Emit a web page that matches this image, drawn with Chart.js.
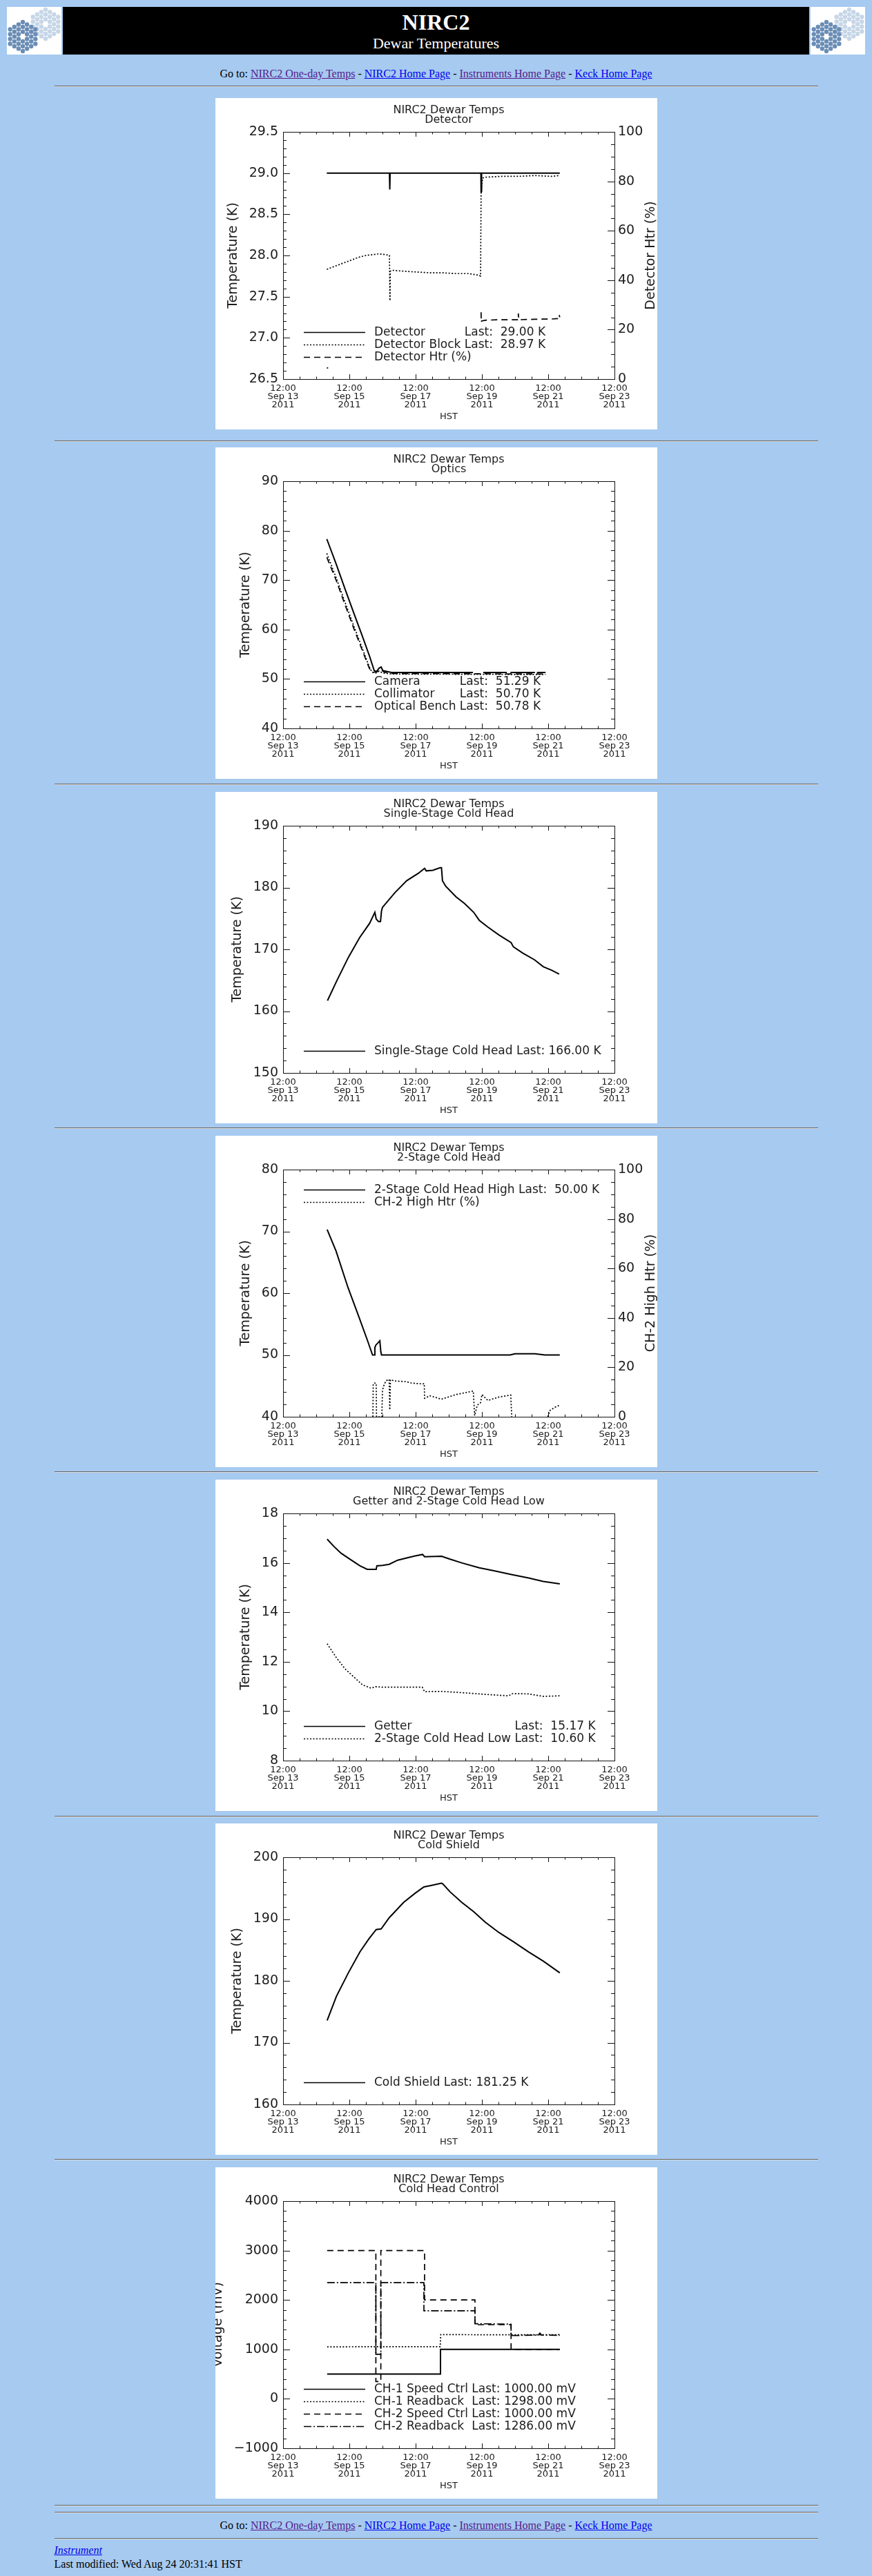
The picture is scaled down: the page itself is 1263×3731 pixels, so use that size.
<!DOCTYPE html>
<html>
<head>
<meta charset="utf-8">
<title>NIRC2 Dewar Temperatures</title>
<script src="https://cdn.jsdelivr.net/npm/chart.js@4.4.1/dist/chart.umd.min.js"></script>
<style>
  html, body { overflow: hidden; }
  body { margin: 0; padding: 10px 10px 0 10px; background: #a6caf0; color: #000;
         font-family: "Liberation Serif", "Times New Roman", serif; font-size: 16px; }
  .head { display: flex; gap: 2px; height: 69px; }
  .head canvas { display: block; }
  .banner { flex: 1; background: #000; color: #fff; display: flex; flex-direction: column;
            justify-content: center; align-items: center; }
  .banner .t1 { font-size: 32px; font-weight: bold; line-height: 36px; }
  .banner .t2 { font-size: 22px; line-height: 26px; }
  .wrap { width: 1106px; margin: 0 auto; }
  .goto { text-align: center; line-height: 20px; }
  hr { border: 0; border-top: 1px solid #666; border-bottom: 1px solid #dcdcdc; height: 0; margin: 0; }
  .plot { display: block; margin-left: auto; margin-right: auto; background: #fff; }
  a { color: #0000ee; }
  a.v { color: #551a8b; }
  .foot { line-height: 20px; }
</style>
</head>
<body>
<div class="head">
  <canvas class="logo" width="79" height="69"></canvas>
  <div class="banner"><div class="t1">NIRC2</div><div class="t2">Dewar Temperatures</div></div>
  <canvas class="logo" width="79" height="69"></canvas>
</div>
<div class="wrap">
  <div class="goto" style="margin-top:18px">Go to: <a class="v" href="#">NIRC2 One-day Temps</a> - <a href="#">NIRC2 Home Page</a> - <a class="v" href="#">Instruments Home Page</a> - <a href="#">Keck Home Page</a></div>
  <hr style="margin-top:7px">
  <canvas id="c1" class="plot" width="640" height="480" style="margin-top:16px"></canvas>
  <hr style="margin-top:16px">
  <canvas id="c2" class="plot" width="640" height="480" style="margin-top:8px"></canvas>
  <hr style="margin-top:7px">
  <canvas id="c3" class="plot" width="640" height="480" style="margin-top:10px"></canvas>
  <hr style="margin-top:6px">
  <canvas id="c4" class="plot" width="640" height="480" style="margin-top:10px"></canvas>
  <hr style="margin-top:6px">
  <canvas id="c5" class="plot" width="640" height="480" style="margin-top:10px"></canvas>
  <hr style="margin-top:7px">
  <canvas id="c6" class="plot" width="640" height="480" style="margin-top:9px"></canvas>
  <hr style="margin-top:6px">
  <canvas id="c7" class="plot" width="640" height="480" style="margin-top:10px"></canvas>
  <hr style="margin-top:9px">
  <hr style="margin-top:8px">
  <div class="goto" style="margin-top:8px">Go to: <a class="v" href="#">NIRC2 One-day Temps</a> - <a href="#">NIRC2 Home Page</a> - <a class="v" href="#">Instruments Home Page</a> - <a href="#">Keck Home Page</a></div>
  <hr style="margin-top:8px">
  <div class="foot" style="margin-top:6px"><i><a href="#">Instrument</a></i><br>Last modified: Wed Aug 24 20:31:41 HST</div>
</div>

<script>
// time axis: days since Sep 13 2011 12:00 HST
const tickDates = ['Sep 13', 'Sep 15', 'Sep 17', 'Sep 19', 'Sep 21', 'Sep 23'];
const tickTime = '12:00';
const tickYear = '2011';

// Detector
const detX   = [1.32, 2.0, 2.6, 3.21, 3.215, 3.225, 3.23, 4.1, 4.6, 5.2, 5.97, 5.975, 5.985, 5.99, 6.5, 7.0, 7.6, 8.35];
const detY   = [29.00, 29.00, 29.00, 29.00, 28.80, 28.80, 29.00, 29.00, 29.00, 29.00, 29.00, 28.76, 28.78, 29.00, 29.00, 29.00, 29.00, 29.00];
const blockX = [1.32, 1.5, 1.7, 1.9, 2.1, 2.3, 2.5, 2.7, 2.9, 3.1, 3.21, 3.225, 3.235, 3.3, 3.6, 4.0, 4.4, 4.8, 5.2, 5.6, 5.9, 5.96, 5.975, 6.02, 6.1, 6.6, 7.1, 7.6, 8.1, 8.35];
const blockY = [27.83, 27.86, 27.89, 27.92, 27.95, 27.98, 28.00, 28.01, 28.02, 28.01, 28.00, 27.45, 27.81, 27.82, 27.81, 27.80, 27.79, 27.79, 27.78, 27.78, 27.76, 27.75, 28.75, 28.94, 28.95, 28.96, 28.96, 28.97, 28.96, 28.97];
const htrX   = [1.32, 1.36, 1.37, 5.975, 5.98, 5.99, 6.1, 6.5, 7.0, 7.09, 7.1, 7.11, 7.6, 8.1, 8.3, 8.33, 8.35];
const htrY   = [4.5, 4.5, null, 27.0, 23.0, 23.5, 23.8, 24.0, 24.0, 24.0, 26.5, 24.0, 24.2, 24.3, 24.5, 26.0, 25.0];
const detectorLast = ['29.00 K', '28.97 K', null];

// Optics
const camX   = [1.32, 1.6, 1.87, 2.13, 2.39, 2.61, 2.75, 2.82, 2.9, 2.96, 3.01, 3.27, 4.5, 5.73, 5.74, 6.04, 6.75, 6.76, 6.86, 7.6, 7.61, 7.66, 7.92];
const camY   = [78.3, 73.3, 68.2, 63.4, 58.7, 54.6, 51.7, 51.5, 52.2, 52.4, 51.7, 51.3, 51.3, 51.3, null, 51.3, 51.3, null, 51.3, 51.3, null, 51.3, 51.3];
const colX   = [1.32, 1.6, 1.87, 2.13, 2.39, 2.6, 2.68, 2.8, 2.9, 3.0, 3.3, 7.92];
const colY   = [75.4, 70.5, 65.5, 60.8, 56.2, 52.5, 51.4, 51.2, 51.6, 51.2, 51.0, 50.9];
const benchX = [1.32, 1.6, 1.87, 2.13, 2.39, 2.6, 2.68, 2.85, 2.95, 3.05, 3.3, 7.92];
const benchY = [74.6, 70.0, 65.0, 60.3, 55.8, 52.2, 51.3, 51.5, 51.9, 51.4, 51.1, 51.0];
const opticsLast = ['51.29 K', '50.70 K', '50.78 K'];

// Single-stage cold head
const singleX = [1.34, 1.62, 1.97, 2.31, 2.61, 2.77, 2.81, 2.88, 2.94, 2.97, 3.0, 3.38, 3.73, 4.08, 4.27, 4.32, 4.52, 4.74, 4.78, 4.81, 4.91, 5.22, 5.48, 5.75, 5.92, 6.18, 6.52, 6.88, 6.95, 7.23, 7.59, 7.85, 8.11, 8.33];
const singleY = [161.7, 164.9, 168.7, 171.9, 174.2, 176.0, 174.9, 174.5, 174.5, 176.2, 176.8, 179.2, 181.1, 182.3, 183.1, 182.7, 182.8, 183.2, 183.2, 181.1, 180.2, 178.5, 177.4, 176.0, 174.7, 173.6, 172.3, 171.1, 170.4, 169.4, 168.3, 167.2, 166.6, 166.0];
const singleLast = ['166.00 K'];

// 2-stage cold head high + heater
const ch2HighX = [1.33, 1.6, 1.96, 2.3, 2.53, 2.7, 2.75, 2.77, 2.8, 2.87, 2.92, 2.95, 2.97, 3.2, 4.0, 5.0, 5.8, 6.0, 6.85, 7.0, 7.3, 7.6, 7.9, 8.35];
const ch2HighY = [70.3, 66.8, 60.9, 56.0, 52.6, 50.0, 50.0, 51.2, 51.6, 52.0, 52.3, 50.5, 50.0, 50.0, 50.0, 50.0, 50.0, 50.0, 50.0, 50.2, 50.2, 50.2, 50.0, 50.0];
const ch2HtrX  = [2.71, 2.72, 2.75, 2.81, 2.82, 2.98, 3.0, 3.05, 3.11, 3.2, 3.22, 3.24, 3.36, 3.71, 3.89, 4.2, 4.26, 4.27, 4.43, 4.78, 5.22, 5.74, 5.78, 5.86, 5.96, 6.0, 6.18, 6.52, 6.87, 6.9, 6.95, 7.99, 8.05, 8.2, 8.35];
const ch2HtrY  = [0.0, 13.0, 13.7, 13.5, 0.0, 0.0, 10.8, 13.0, 14.6, 15.1, 2.8, 15.0, 14.5, 14.2, 13.6, 13.3, 13.4, 7.5, 8.5, 7.1, 9.0, 10.4, 0.5, 4.7, 5.7, 9.0, 6.6, 8.0, 8.8, 0.0, null, 0.0, 2.5, 3.8, 4.7];
const ch2Last  = ['50.00 K', null];

// Getter and 2-stage cold head low
const getterX = [1.33, 1.53, 1.75, 2.06, 2.32, 2.54, 2.81, 2.83, 3.0, 3.2, 3.46, 3.73, 3.99, 4.21, 4.27, 4.78, 5.04, 5.39, 5.92, 6.36, 6.89, 7.41, 7.85, 8.35];
const getterY = [16.96, 16.67, 16.39, 16.11, 15.88, 15.74, 15.74, 15.88, 15.90, 15.94, 16.11, 16.20, 16.28, 16.34, 16.25, 16.27, 16.15, 16.00, 15.80, 15.68, 15.53, 15.39, 15.25, 15.15];
const lowX    = [1.33, 1.6, 1.87, 2.13, 2.4, 2.66, 2.8, 3.0, 3.5, 4.2, 4.27, 4.78, 5.39, 6.1, 6.8, 6.92, 7.4, 7.85, 8.35];
const lowY    = [12.73, 12.18, 11.71, 11.39, 11.06, 10.93, 10.99, 10.97, 10.97, 10.97, 10.79, 10.80, 10.75, 10.68, 10.62, 10.71, 10.70, 10.60, 10.62];
const getterLast = ['15.17 K', '10.60 K'];

// Cold shield
const shieldX = [1.33, 1.61, 1.97, 2.32, 2.59, 2.81, 2.96, 3.2, 3.64, 3.99, 4.25, 4.43, 4.78, 4.82, 5.04, 5.39, 5.75, 6.1, 6.52, 6.96, 7.4, 7.85, 8.35];
const shieldY = [173.6, 177.5, 181.3, 184.7, 186.8, 188.3, 188.4, 190.2, 192.7, 194.2, 195.2, 195.4, 195.8, 195.7, 194.4, 192.7, 191.2, 189.5, 187.8, 186.3, 184.7, 183.2, 181.3];
const shieldLast = ['181.25 K'];

// Cold head control (mV)
const ch1CtrlX = [1.33, 4.75, 4.75, 8.35];
const ch1CtrlY = [500, 500, 1000, 1000];
const ch1ReadX = [1.33, 2.5, 4.74, 4.76, 6.5, 8.35];
const ch1ReadY = [1050, 1055, 1055, 1300, 1295, 1298];
const ch2CtrlX = [1.33, 2.8, 2.8, 2.95, 2.95, 4.27, 4.27, 5.79, 5.79, 6.88, 6.88, 8.35];
const ch2CtrlY = [3000, 3000, 350, 350, 3000, 3000, 2000, 2000, 1500, 1500, 1000, 1000];
const ch2ReadX = [1.33, 2.8, 2.8, 2.95, 2.95, 4.25, 4.25, 5.79, 5.79, 6.88, 6.88, 7.7, 7.75, 7.8, 8.35];
const ch2ReadY = [2350, 2350, 900, 900, 2350, 2350, 1780, 1780, 1520, 1510, 1280, 1290, 1330, 1290, 1286];
const ctrlLast = ['1000.00 mV', '1298.00 mV', '1000.00 mV', '1286.00 mV'];

const FONT = '"DejaVu Sans", "Liberation Sans", sans-serif';
const INK = '#1c1c1c';
const DASH = { solid: [], dotted: [2, 2.5], dashed: [9, 6], dashdot: [11, 3, 2, 3] };

function xy(xs, ys) { return xs.map((x, i) => ({ x, y: ys[i] })); }

function line(label, xs, ys, style, axis) {
  return {
    label, data: xy(xs, ys), yAxisID: axis || 'y',
    borderColor: '#000', borderWidth: style === 'solid' ? 2 : 1.7,
    borderDash: DASH[style], pointRadius: 0, tension: 0, spanGaps: false, fill: false
  };
}

// IDL style frame, inward ticks, titles and legend
const idlPlot = {
  id: 'idlPlot',
  afterDraw(chart, args, o) {
    const { ctx, chartArea: a, scales } = chart;
    const seg = (x1, y1, x2, y2) => { ctx.beginPath(); ctx.moveTo(x1, y1); ctx.lineTo(x2, y2); ctx.stroke(); };
    const marks = (s, minor, major) => {
      const out = [];
      const n = Math.round((s.max - s.min) / minor);
      for (let i = 0; i <= n; i++) {
        const v = s.min + i * minor;
        const isMajor = Math.abs(v / major - Math.round(v / major)) < 1e-6;
        out.push([Math.round(s.getPixelForValue(v)) + 0.5, isMajor]);
      }
      return out;
    };
    ctx.save();
    ctx.strokeStyle = '#111';
    ctx.lineWidth = 1;
    ctx.setLineDash([]);
    ctx.strokeRect(Math.round(a.left) + 0.5, Math.round(a.top) + 0.5, Math.round(a.width), Math.round(a.height));
    marks(scales.x, 0.5, 2).forEach(([p, M]) => {
      const l = M ? 7 : 3.5;
      seg(p, a.bottom, p, a.bottom - l);
      seg(p, a.top, p, a.top + l);
    });
    marks(scales.y, o.yMinor, o.yMajor).forEach(([p, M]) => {
      const l = M ? 10 : 5;
      seg(a.left, p, a.left + l, p);
      if (!scales.y2) seg(a.right, p, a.right - l, p);
    });
    if (scales.y2) {
      marks(scales.y2, 5, 20).forEach(([p, M]) => {
        const l = M ? 10 : 5;
        seg(a.right, p, a.right - l, p);
      });
    }

    ctx.fillStyle = INK;
    ctx.textBaseline = 'middle';
    ctx.textAlign = 'center';
    const cx = (a.left + a.right) / 2;
    ctx.font = '16px ' + FONT;
    ctx.fillText('NIRC2 Dewar Temps', cx, 18);
    ctx.fillText(o.sub, cx, 32);

    const widest = s => {
      ctx.font = '19px ' + FONT;
      return Math.max(...s.ticks.map(t => ctx.measureText(String(t.label)).width));
    };
    const cy = (a.top + a.bottom) / 2;
    const vText = (text, x) => {
      ctx.save();
      ctx.font = '19px ' + FONT;
      ctx.translate(x, cy);
      ctx.rotate(-Math.PI / 2);
      ctx.fillText(text, 0, 0);
      ctx.restore();
    };
    vText(o.yTitle, a.left - 7 - widest(scales.y) - 23);
    if (scales.y2) vText(o.y2Title, a.right + 5 + widest(scales.y2) + 12);

    // legend inside the plot
    const sets = chart.data.datasets;
    ctx.font = '17px ' + FONT;
    ctx.textAlign = 'left';
    const step = 18;
    const y0 = o.legendTop ? a.top + 29 : a.bottom - 32 - (sets.length - 1) * step;
    const named = sets.filter((d, i) => o.last[i]);
    const nameW = Math.max(0, ...named.map(d => ctx.measureText(d.label + ' ').width));
    sets.forEach((d, i) => {
      const y = Math.round(y0 + i * step) + 0.5;
      ctx.strokeStyle = '#000';
      ctx.lineWidth = d.borderWidth === 2 ? 1.6 : 1.3;
      ctx.setLineDash(d.borderDash || []);
      seg(a.left + 30, y, a.left + 119, y);
      ctx.setLineDash([]);
      ctx.fillText(d.label, a.left + 132, y);
      if (o.last[i]) {
        const [num, unit] = o.last[i].split(' ');
        ctx.fillText('Last: ' + num.padStart(6, ' ') + ' ' + unit, a.left + 132 + nameW, y);
      }
    });
    ctx.restore();
  }
};

function makeChart(id, o) {
  const [yMin, yMax, yMajor, yMinor] = o.y;
  const scales = {
    x: {
      type: 'linear', min: 0, max: 10,
      afterFit: s => { s.height = 73; },
      grid: { display: false, drawTicks: false }, border: { display: false },
      ticks: {
        stepSize: 2, autoSkip: false, maxRotation: 0, padding: 8, color: INK,
        font: { family: FONT, size: 13, lineHeight: 0.92 },
        callback: (v, i) => [tickTime, tickDates[i], tickYear]
      },
      title: { display: true, text: 'HST', color: INK, font: { family: FONT, size: 13 }, padding: { top: 0, bottom: 11 } }
    },
    y: {
      type: 'linear', position: 'left', min: yMin, max: yMax,
      afterFit: s => { s.width = 98; },
      grid: { display: false, drawTicks: false }, border: { display: false },
      ticks: { stepSize: yMajor, padding: 7, color: INK, font: { family: FONT, size: 19 }, callback: o.fmt || (v => String(v)) }
    }
  };
  if (o.y2Title) {
    scales.y2 = {
      type: 'linear', position: 'right', min: 0, max: 100,
      afterFit: s => { s.width = 62; },
      grid: { display: false, drawTicks: false }, border: { display: false },
      ticks: { stepSize: 20, padding: 5, color: INK, font: { family: FONT, size: 19 } }
    };
  }
  return new Chart(document.getElementById(id), {
    type: 'line',
    data: { datasets: o.sets },
    options: {
      responsive: false,
      animation: false,
      layout: { padding: { top: 49, left: 0, bottom: 0, right: o.y2Title ? 0 : 62 }, autoPadding: false },
      scales,
      plugins: {
        legend: { display: false },
        tooltip: { enabled: false },
        idlPlot: { sub: o.sub, yTitle: o.yTitle, y2Title: o.y2Title, yMajor, yMinor, last: o.last, legendTop: o.legendTop }
      }
    },
    plugins: [idlPlot]
  });
}

makeChart('c1', {
  sub: 'Detector', yTitle: 'Temperature (K)', y2Title: 'Detector Htr (%)',
  y: [26.5, 29.5, 0.5, 0.1], fmt: v => v.toFixed(1), last: detectorLast,
  sets: [
    line('Detector', detX, detY, 'solid'),
    line('Detector Block', blockX, blockY, 'dotted'),
    line('Detector Htr (%)', htrX, htrY, 'dashed', 'y2')
  ]
});

makeChart('c2', {
  sub: 'Optics', yTitle: 'Temperature (K)', y: [40, 90, 10, 2], last: opticsLast,
  sets: [
    line('Camera', camX, camY, 'solid'),
    line('Collimator', colX, colY, 'dotted'),
    line('Optical Bench', benchX, benchY, 'dashed')
  ]
});

makeChart('c3', {
  sub: 'Single-Stage Cold Head', yTitle: 'Temperature (K)', y: [150, 190, 10, 2], last: singleLast,
  sets: [line('Single-Stage Cold Head', singleX, singleY, 'solid')]
});

makeChart('c4', {
  sub: '2-Stage Cold Head', yTitle: 'Temperature (K)', y2Title: 'CH-2 High Htr (%)',
  y: [40, 80, 10, 2], last: ch2Last, legendTop: true,
  sets: [
    line('2-Stage Cold Head High', ch2HighX, ch2HighY, 'solid'),
    line('CH-2 High Htr (%)', ch2HtrX, ch2HtrY, 'dotted', 'y2')
  ]
});

makeChart('c5', {
  sub: 'Getter and 2-Stage Cold Head Low', yTitle: 'Temperature (K)', y: [8, 18, 2, 0.5], last: getterLast,
  sets: [
    line('Getter', getterX, getterY, 'solid'),
    line('2-Stage Cold Head Low', lowX, lowY, 'dotted')
  ]
});

makeChart('c6', {
  sub: 'Cold Shield', yTitle: 'Temperature (K)', y: [160, 200, 10, 2], last: shieldLast,
  sets: [line('Cold Shield', shieldX, shieldY, 'solid')]
});

makeChart('c7', {
  sub: 'Cold Head Control', yTitle: 'Voltage (mV)', y: [-1000, 4000, 1000, 200], last: ctrlLast,
  fmt: v => (v < 0 ? '\u2212' + Math.abs(v) : String(v)),
  sets: [
    line('CH-1 Speed Ctrl', ch1CtrlX, ch1CtrlY, 'solid'),
    line('CH-1 Readback', ch1ReadX, ch1ReadY, 'dotted'),
    line('CH-2 Speed Ctrl', ch2CtrlX, ch2CtrlY, 'dashed'),
    line('CH-2 Readback', ch2ReadX, ch2ReadY, 'dashdot')
  ]
});

// Keck mirror logos
document.querySelectorAll('canvas.logo').forEach(cv => {
  const c = cv.getContext('2d');
  c.fillStyle = '#fff';
  c.fillRect(0, 0, cv.width, cv.height);
  const hex = (hx, hy, col) => {
    c.fillStyle = col;
    for (let q = -3; q <= 3; q++) {
      for (let r = -3; r <= 3; r++) {
        const s = -q - r;
        if (Math.abs(s) > 3 || (q === 0 && r === 0)) continue;
        c.beginPath();
        c.arc(hx + 6.1 * q, hy + 7 * (r + q / 2), 3.2, 0, Math.PI * 2);
        c.fill();
      }
    }
  };
  hex(56, 25, '#c6d6e7');
  hex(23, 43, '#6a8db5');
});
</script>
</body>
</html>
